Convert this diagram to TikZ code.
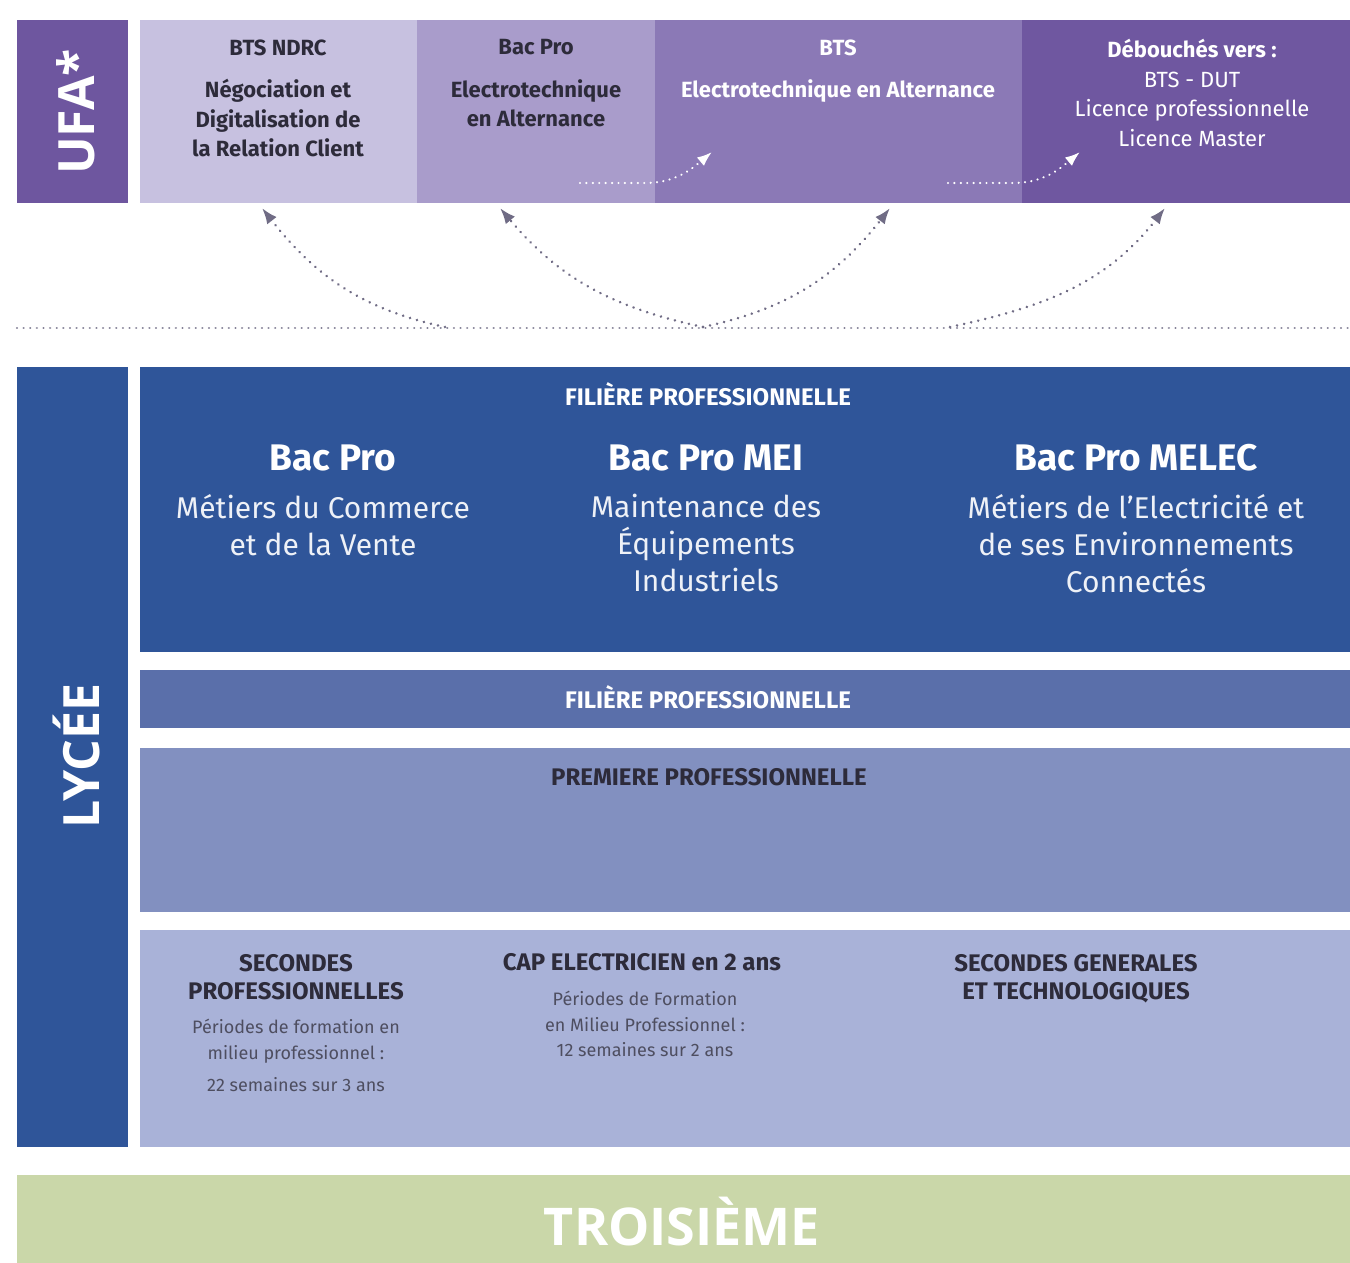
\documentclass[tikz,border=0pt]{standalone}
\usepackage{fontspec}
\setmainfont{Fira Sans}
\newfontfamily\headfont{Open Sans}
\usetikzlibrary{arrows,arrows.meta}

\definecolor{ufaPurple}{RGB}{110,86,159}
\definecolor{cellA}{RGB}{199,193,224}
\definecolor{cellB}{RGB}{169,156,203}
\definecolor{cellC}{RGB}{139,121,182}
\definecolor{cellD}{RGB}{111,87,160}
\definecolor{lyceeBlue}{RGB}{47,85,153}
\definecolor{bandB}{RGB}{90,111,170}
\definecolor{bandC}{RGB}{130,144,192}
\definecolor{bandD}{RGB}{169,178,216}
\definecolor{troisGreen}{RGB}{202,215,169}
\definecolor{inkDark}{RGB}{45,43,58}
\definecolor{inkGrey}{RGB}{78,78,96}
\definecolor{dotGrey}{RGB}{112,108,133}

\tikzset{
  sidelabel/.style={rotate=90, text=white, inner sep=0pt,
    font=\headfont\fontsize{25}{25}\selectfont\bfseries},
  celltext/.style={align=center, anchor=north, inner sep=0pt,
    font=\fontsize{11}{14.75}\selectfont\bfseries},
  bandtitle/.style={anchor=base, inner sep=0pt,
    font=\fontsize{12}{14}\selectfont\bfseries},
  bachead/.style={anchor=base, inner sep=0pt, text=white,
    font=\fontsize{18.5}{20}\selectfont\bfseries},
  bacdesc/.style={align=center, anchor=north, inner sep=0pt, text=white!92!lyceeBlue,
    font=\fontsize{15}{18.5}\selectfont},
  smalldesc/.style={align=center, anchor=north, inner sep=0pt, text=inkGrey,
    font=\fontsize{9}{12.75}\selectfont},
  pathway/.style={dotGrey, line width=1.4pt, line cap=round,
    dash pattern=on 0.01pt off 3.6pt, -{Latex[length=8pt,width=6pt]}},
  pathwaylight/.style={white, line width=1.2pt, line cap=round,
    dash pattern=on 0.01pt off 3.2pt, -{Latex[length=7.5pt,width=5.5pt]}}
}

\begin{document}
\begin{tikzpicture}[x=0.5pt,y=0.5pt,yscale=-1,xscale=1]
\useasboundingbox (0,0) rectangle (1350,1263);

%Shape: UFA bar and top cells
\fill [ufaPurple] (17,20) rectangle (128,203);
\fill [cellA] (140,20) rectangle (417,203);
\fill [cellB] (417,20) rectangle (655,203);
\fill [cellC] (655,20) rectangle (1022,203);
\fill [cellD] (1022,20) rectangle (1350,203);

%Shape: Lycee bar and bands
\fill [lyceeBlue] (17,367) rectangle (128,1147);
\fill [lyceeBlue] (140,367) rectangle (1350,652);
\fill [bandB] (140,670) rectangle (1350,728);
\fill [bandC] (140,748) rectangle (1350,912);
\fill [bandD] (140,930) rectangle (1350,1147);

%Shape: Troisieme
\fill [troisGreen] (17,1175) rectangle (1350,1263);

%Straight Lines: separation
\coordinate (sepL) at (17,328);
\coordinate (sepR) at (1350,328);
\draw [dotGrey!85, line width=1.2pt, line cap=round, dash pattern=on 0.01pt off 3.3pt] (sepL) -- (sepR);

% Text Node
\node [sidelabel] (ufa) at (76,112) {UFA*};
% Text Node
\node [sidelabel] (lycee) at (76,756) {LYCÉE};

% Text Node
\node [celltext, text=inkDark] (ndrc) at (278,39)
  {BTS NDRC\\[6.5pt]Négociation et\\Digitalisation de\\la Relation Client};
% Text Node
\node [celltext, text=inkDark] (bacalt) at (536,39)
  {Bac Pro\\[6.5pt]Electrotechnique\\en Alternance};
% Text Node
\node [celltext, text=white] (btsalt) at (838,39)
  {BTS\\[6.5pt]Electrotechnique en Alternance};
% Text Node
\node [celltext, text=white] (debouches) at (1192,39)
  {Débouchés vers :\\\mdseries BTS - DUT\\\mdseries Licence professionnelle\\\mdseries Licence Master};

%Straight Lines: arrows (angles flipped by yscale=-1)
\coordinate (s1) at (445,327);
\coordinate (t1) at (262,208);
\coordinate (s2) at (703,327);
\coordinate (t2) at (500,208);
\coordinate (s3) at (703,327);
\coordinate (t3) at (890,208);
\coordinate (s4) at (950,327);
\coordinate (t4) at (1165,208);
\draw [pathway] (s1) to[out=192,in=52] (t1);
\draw [pathway] (s2) to[out=192,in=50] (t2);
\draw [pathway] (s3) to[out=-12,in=128] (t3);
\draw [pathway] (s4) to[out=-12,in=128] (t4);

\coordinate (w1s) at (580,183);
\coordinate (w1m) at (645,183);
\coordinate (w1t) at (712,152);
\coordinate (w2s) at (948,183);
\coordinate (w2m) at (1013,183);
\coordinate (w2t) at (1080,152);
\draw [pathwaylight] (w1s) -- (w1m) to[out=0,in=140] (w1t);
\draw [pathwaylight] (w2s) -- (w2m) to[out=0,in=140] (w2t);

% Text Node
\node [bandtitle, text=white] (filiereA) at (708,405) {FILIÈRE PROFESSIONNELLE};
% Text Node
\node [bachead] (bacmcv) at (333,470) {Bac Pro};
\node [bacdesc] (mcv) at (323,494) {Métiers du Commerce\\et de la Vente};
% Text Node
\node [bachead] (bacmei) at (706,470) {Bac Pro MEI};
\node [bacdesc] (mei) at (706,494) {Maintenance des\\Équipements\\Industriels};
% Text Node
\node [bachead] (bacmelec) at (1136,470) {Bac Pro MELEC};
\node [bacdesc] (melec) at (1136,494) {Métiers de l'Electricité et\\de ses Environnements\\Connectés};

% Text Node
\node [bandtitle, text=white] (filiereB) at (708,708) {FILIÈRE PROFESSIONNELLE};
% Text Node
\node [bandtitle, text=inkDark] (premiere) at (709,785) {PREMIERE PROFESSIONNELLE};

% Text Node
\node [bandtitle, anchor=north, align=center, text=inkDark] (secpro) at (296,954)
  {SECONDES\\PROFESSIONNELLES};
\node [smalldesc] (secprodesc) at (296,1019)
  {Périodes de formation en\\milieu professionnel :\\[3.5pt]22 semaines sur 3 ans};
% Text Node
\node [bandtitle, text=inkDark] (cap) at (642,970) {CAP ELECTRICIEN en 2 ans};
\node [smalldesc] (capdesc) at (645,991)
  {Périodes de Formation\\en Milieu Professionnel :\\12 semaines sur 2 ans};
% Text Node
\node [bandtitle, anchor=north, align=center, text=inkDark] (secgen) at (1076,954)
  {SECONDES GENERALES\\ET TECHNOLOGIQUES};

% Text Node
\node [anchor=base, inner sep=0pt, text=white, font=\headfont\fontsize{26}{26}\selectfont\bfseries] (troisieme) at (682,1245) {TROISIÈME};

\end{tikzpicture}
\end{document}
